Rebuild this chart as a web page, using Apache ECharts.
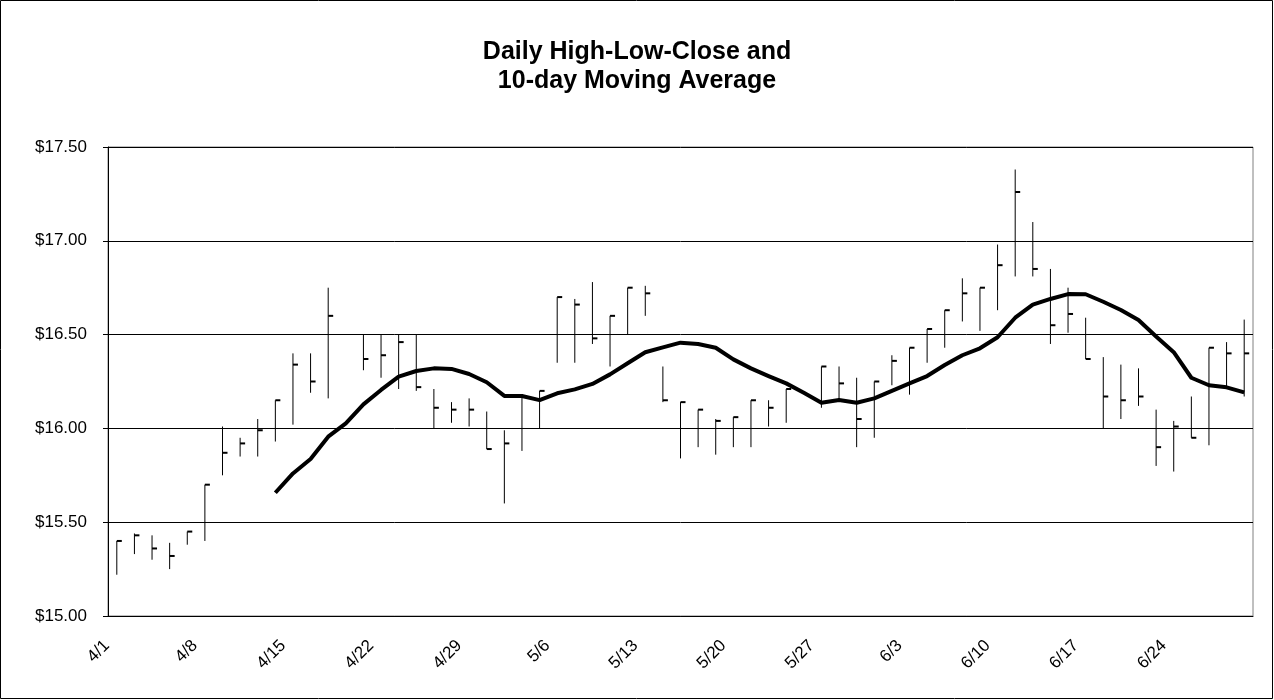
<!DOCTYPE html>
<html>
<head>
<meta charset="utf-8">
<script src="https://cdn.jsdelivr.net/npm/echarts@6/dist/echarts.min.js"></script>
<style>
  html, body { margin: 0; padding: 0; background: #fff; }
  #chart { width: 1274px; height: 700px; }
</style>
</head>
<body>
<div id="chart"></div>
<script>
// trading days, 4/1 - 6/28
var days = [
  '4/1','4/2','4/3','4/4','4/5','4/8','4/9','4/10','4/11','4/12',
  '4/15','4/16','4/17','4/18','4/19','4/22','4/23','4/24','4/25','4/26',
  '4/29','4/30','5/1','5/2','5/3','5/6','5/7','5/8','5/9','5/10',
  '5/13','5/14','5/15','5/16','5/17','5/20','5/21','5/22','5/23','5/24',
  '5/27','5/28','5/29','5/30','5/31','6/3','6/4','6/5','6/6','6/7',
  '6/10','6/11','6/12','6/13','6/14','6/17','6/18','6/19','6/20','6/21',
  '6/24','6/25','6/26','6/27','6/28'
];

var high = [
  15.40,15.44,15.43,15.39,15.45,15.70,16.01,15.95,16.05,16.15,
  16.40,16.40,16.75,null,16.50,16.50,16.50,16.50,16.21,16.14,
  16.16,16.09,15.99,16.17,16.20,16.70,16.69,16.78,16.60,16.75,
  16.76,16.33,16.14,16.10,16.05,16.06,16.15,16.15,16.21,null,
  16.33,16.33,16.27,16.25,16.39,16.43,16.53,16.63,16.80,16.75,
  16.98,17.38,17.10,16.85,16.75,16.59,16.38,16.34,16.32,16.10,
  16.04,16.17,16.43,16.46,16.58
];
var low = [
  15.22,15.33,15.30,15.25,15.38,15.40,15.75,15.85,15.85,15.93,
  16.02,16.19,16.16,null,16.31,16.27,16.21,16.20,16.00,16.03,
  16.01,15.89,15.60,15.88,16.00,16.35,16.35,16.45,16.33,16.50,
  16.60,16.14,15.84,15.90,15.86,15.90,15.90,16.01,16.03,null,
  16.11,16.16,15.90,15.95,16.23,16.18,16.35,16.43,16.57,16.52,
  16.63,16.81,16.81,16.45,16.51,16.37,16.00,16.05,16.12,15.80,
  15.77,15.95,15.91,16.22,16.17
];
var close = [
  15.40,15.43,15.36,15.32,15.45,15.70,15.87,15.92,15.99,16.15,
  16.34,16.25,16.60,null,16.37,16.39,16.46,16.22,16.11,16.10,
  16.10,15.89,15.92,16.17,16.20,16.70,16.66,16.48,16.60,16.75,
  16.72,16.15,16.14,16.10,16.04,16.06,16.15,16.11,16.21,null,
  16.33,16.24,16.05,16.25,16.36,16.43,16.53,16.63,16.72,16.75,
  16.87,17.26,16.85,16.55,16.61,16.37,16.17,16.15,16.17,15.90,
  16.01,15.95,16.43,16.40,16.40
];
var movingAvg = [
  null,null,null,null,null,null,null,null,null,15.657,
  15.760,15.837,15.956,16.027,16.128,16.205,16.276,16.306,16.320,16.317,
  16.290,16.246,16.173,16.173,16.151,16.187,16.208,16.237,16.288,16.347,
  16.406,16.432,16.457,16.450,16.430,16.368,16.320,16.279,16.240,16.190,
  16.137,16.151,16.137,16.160,16.200,16.240,16.279,16.338,16.390,16.427,
  16.486,16.590,16.660,16.690,16.716,16.715,16.675,16.631,16.578,16.490,
  16.406,16.270,16.230,16.219,16.192
];

var font = "'Liberation Sans', Arial, sans-serif";

var hlc = [];
for (var i = 0; i < days.length; i++) {
  if (high[i] == null) continue;
  hlc.push([i, high[i], low[i], close[i]]);
}

// high-low stick plus a close tick on the right
function renderHLC(params, api) {
  var x = api.value(0);
  var hi = api.coord([x, api.value(1)]);
  var lo = api.coord([x, api.value(2)]);
  var cl = api.coord([x, api.value(3)]);
  return {
    type: 'group',
    children: [
      { type: 'line', shape: { x1: hi[0], y1: hi[1], x2: lo[0], y2: lo[1] },
        style: { stroke: '#000', lineWidth: 1 } },
      { type: 'rect', shape: { x: cl[0], y: cl[1] - 1, width: 5, height: 2 },
        style: { fill: '#000' } }
    ]
  };
}

var chart = echarts.init(document.getElementById('chart'));
chart.setOption({
  animation: false,
  backgroundColor: '#fff',
  title: {
    text: 'Daily High-Low-Close and\n10-day Moving Average',
    left: 'center',
    top: 33,
    textStyle: { fontFamily: font, fontSize: 25, fontWeight: 'bold', color: '#000', lineHeight: 29 }
  },
  graphic: [{
    type: 'rect',
    shape: { x: 0.5, y: 0.5, width: 1272, height: 698 },
    style: { fill: null, stroke: '#000', lineWidth: 1 },
    z: 100
  }],
  grid: {
    left: 108, right: 21, top: 147, bottom: 84,
    show: true, borderColor: '#808080', borderWidth: 1
  },
  xAxis: [{
    type: 'category',
    data: days,
    boundaryGap: true,
    axisLine: { lineStyle: { color: '#000', width: 1 } },
    axisTick: { interval: 0, length: 6, lineStyle: { color: '#000' } },
    axisLabel: {
      interval: 4, rotate: 45, margin: 17, padding: [0, 14, 0, 0],
      fontFamily: font, fontSize: 17, color: '#000'
    },
    splitLine: { show: false }
  }, {
    // inner half of the crossing ticks
    type: 'category',
    data: days,
    position: 'bottom',
    boundaryGap: true,
    axisLine: { show: false },
    axisTick: { inside: true, interval: 0, length: 6, lineStyle: { color: '#000' } },
    axisLabel: { show: false },
    splitLine: { show: false }
  }],
  yAxis: {
    type: 'value',
    min: 15, max: 17.5, interval: 0.5,
    axisLine: { show: true, lineStyle: { color: '#000', width: 1 } },
    axisTick: { show: true, length: 5, lineStyle: { color: '#000' } },
    axisLabel: {
      margin: 21, fontFamily: font, fontSize: 17, color: '#000',
      formatter: function (v) { return '$' + v.toFixed(2); }
    },
    splitLine: { lineStyle: { color: '#000', width: 1 } }
  },
  series: [{
    type: 'custom',
    renderItem: renderHLC,
    encode: { x: 0, y: [1, 2, 3] },
    data: hlc,
    z: 2
  }, {
    type: 'line',
    data: movingAvg,
    showSymbol: false,
    symbol: 'none',
    lineStyle: { color: '#000', width: 4, join: 'round' },
    z: 3
  }]
});
</script>
</body>
</html>
